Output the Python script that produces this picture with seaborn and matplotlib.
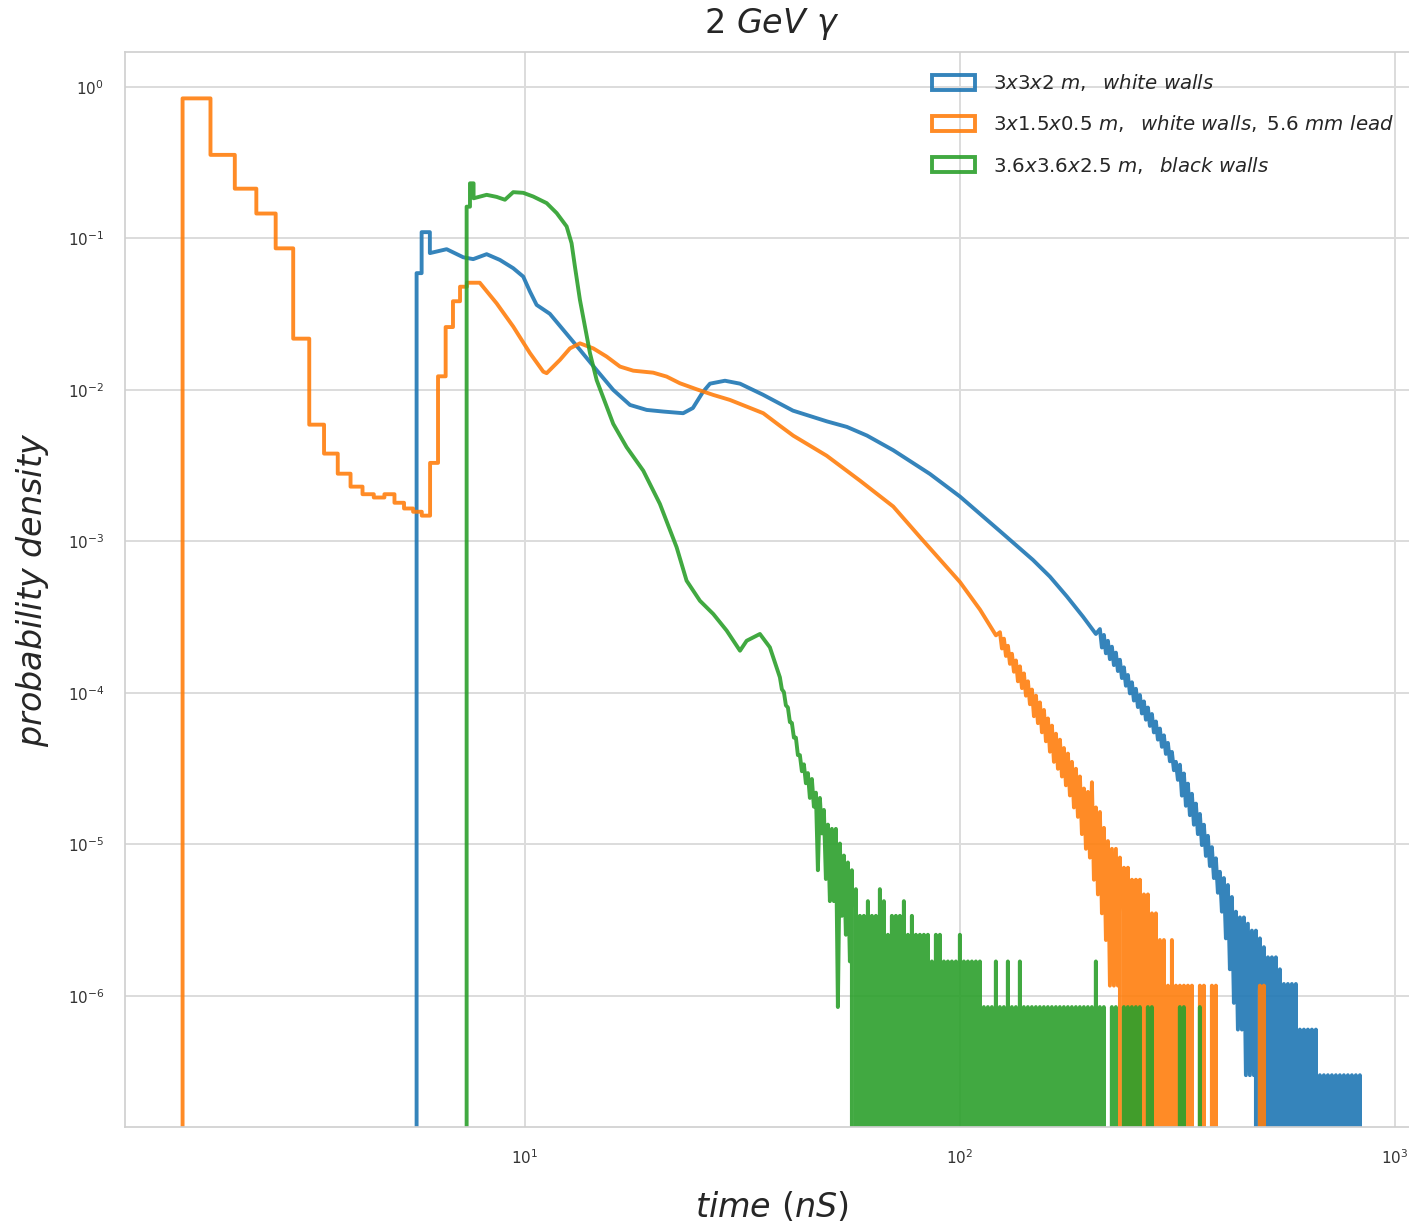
import numpy as np
import matplotlib
matplotlib.use("Agg")
import matplotlib.pyplot as plt
from matplotlib.patches import Patch
from matplotlib.ticker import NullFormatter, NullLocator
import seaborn as sns

# ---------------- data (time in ns, probability density) ----------------
series_labels = [
    r"$3x3x2\ m,\ \ white\ walls$",
    r"$3x1.5x0.5\ m,\ \ white\ walls,\ 5.6\ mm\ lead$",
    r"$3.6x3.6x2.5\ m,\ \ black\ walls$",
]
series_colors = ["#1f77b4", "#ff7f0e", "#2ca02c"]
x_ticks = [10, 100, 1000]

# --- blue: 3x3x2 m, white walls ---
blue_edges = [5.636, 5.788, 6.046]
blue_heights = [0.059, 0.110]
blue_t = [6.046, 6.607, 7.214, 7.605, 8.166, 8.761, 9.399, 9.910, 10.27, 10.64,
          11.41, 12.25, 13.38, 14.62, 15.96, 17.44, 19.05, 20.79, 23.11, 24.33,
          25.66, 26.63, 28.83, 31.22, 35.25, 41.32, 49.46, 54.98, 61.12, 70.26,
          85.31, 100.0, 123.6, 147.2, 161.0, 176.2, 191.8, 205.4]
blue_p = [0.080, 0.0849, 0.0751, 0.073, 0.0787, 0.0721, 0.0636, 0.056, 0.0446, 0.0364,
          0.0318, 0.0249, 0.0184, 0.0135, 0.0100, 0.00796, 0.00738, 0.0072, 0.00702, 0.0076,
          0.0097, 0.0110, 0.0115, 0.0110, 0.0093, 0.0073, 0.0062, 0.0057, 0.0050, 0.0040,
          0.00279, 0.00198, 0.00117, 0.000755, 0.000586, 0.000433, 0.000319, 0.000245]
blue_unit = 3.0e-7          # density of one entry per bin
blue_tail_span = (209.8, 839.6)
blue_tail_hi = [880, 805, 736, 673, 615, 552, 492, 438, 392, 355,
                323, 293, 267, 242, 216, 194, 175, 156, 136, 117,
                112, 98, 84, 72, 62, 53, 45, 38, 32, 27,
                22, 20, 18, 15, 12, 11, 11, 10, 9, 9,
                8, 7, 6, 6, 6, 5, 4, 4, 4, 4,
                2, 2, 2, 2, 2, 1, 1, 1, 1, 1,
                1, 1, 1, 1, 1, 1]
blue_tail_lo = [665, 609, 557, 509, 465, 418, 372, 331, 297, 269,
                244, 222, 202, 183, 164, 147, 132, 118, 103, 89,
                70, 60, 52, 45, 39, 33, 28, 24, 20, 16,
                12, 8, 5, 3, 2, 2, 1, 1, 1, 0,
                0, 0, 0, 0, 0, 0, 0, 0, 0, 0,
                0, 0, 0, 0, 0, 0, 0, 0, 0, 0,
                0, 0, 0, 0, 0, 0]

# --- orange: 3x1.5x0.5 m, white walls, 5.6 mm lead ---
orange_edges = [1.633, 1.893, 2.153, 2.413, 2.673, 2.933, 3.193, 3.453, 3.713, 3.973,
                4.233, 4.493, 4.753, 5.013, 5.273, 5.533, 5.793, 6.053, 6.313, 6.573,
                6.833, 7.093, 7.353, 7.613, 7.873]
orange_heights = [0.84, 0.356, 0.213, 0.146, 0.086, 0.0218, 0.0059, 0.0038, 0.0028, 0.0023,
                  0.00205, 0.00195, 0.00205, 0.0018, 0.00165, 0.00157, 0.00148, 0.0033, 0.0123, 0.026,
                  0.0385, 0.048, 0.051, 0.051]
orange_t = [8.608, 9.399, 10.27, 11.02, 11.22, 12.04, 12.69, 13.38, 14.36, 15.41,
            16.54, 17.74, 19.72, 21.17, 22.71, 24.81, 27.10, 29.60, 32.34, 35.31,
            38.56, 41.39, 49.39, 58.91, 70.26, 80.91, 89.95, 100.0, 111.2, 121.0]
orange_p = [0.0373, 0.0262, 0.0175, 0.0132, 0.0129, 0.0158, 0.0188, 0.0203, 0.0188, 0.0166,
            0.01426, 0.0134, 0.0130, 0.01225, 0.01107, 0.0101, 0.00927, 0.00859, 0.00776, 0.00702,
            0.0058, 0.00499, 0.00368, 0.00252, 0.0017, 0.00107, 0.00076, 0.00054, 0.000355, 0.00024]
orange_unit = 1.17e-6
orange_tail_span = (123.6, 515.9)
orange_tail_hi = [215, 195, 175, 155, 140, 128, 115, 102, 90, 82,
                  74, 66, 58, 52, 46, 42, 37, 34, 30, 27,
                  24, 20, 19, 22, 15, 14, 11, 9, 8, 8,
                  7, 6, 6, 5, 5, 5, 4, 4, 3, 3,
                  2, 2, 1, 2, 1, 1, 1, 1, 1, 0,
                  1, 1, 0, 1, 1, 0, 0, 0, 0, 0,
                  0, 0, 0, 0, 0, 1, 1, 0]
orange_tail_lo = [168, 150, 133, 118, 102, 92, 82, 72, 60, 54,
                  47, 41, 35, 30, 27, 24, 21, 18, 15, 13,
                  10, 8, 7, 5, 4, 3, 2, 1, 1, 1,
                  0, 0, 0, 0, 0, 0, 0, 0, 0, 0,
                  0, 0, 0, 0, 0, 0, 0, 0, 0, 0,
                  0, 0, 0, 0, 0, 0, 0, 0, 0, 0,
                  0, 0, 0, 0, 0, 0, 0, 0]

# --- green: 3.6x3.6x2.5 m, black walls ---
green_edges = [7.345, 7.476, 7.62]
green_heights = [0.162, 0.231]
green_t = [7.62, 8.166, 8.608, 8.995, 9.399, 9.910, 10.45, 11.22, 11.83, 12.47,
           12.80, 13.03, 13.38, 13.74, 14.11, 14.62, 15.96, 17.13, 18.71, 20.43,
           22.32, 23.53, 25.25, 27.10, 29.09, 31.22, 32.34, 34.69, 36.57]
green_p = [0.184, 0.194, 0.188, 0.180, 0.202, 0.200, 0.189, 0.171, 0.147, 0.120,
           0.093, 0.0652, 0.0393, 0.0262, 0.0175, 0.0116, 0.00597, 0.00419, 0.00293, 0.00177,
           0.000916, 0.000551, 0.000406, 0.000332, 0.000258, 0.00019, 0.000221, 0.000245, 0.0002]
green_unit = 8.45e-7
green_tail_span = (38.56, 359.9)
green_tail_hi = [150, 120, 95, 75, 60, 46, 40, 35, 32, 26,
                 24, 20, 16, 15, 15, 12, 10, 9, 8, 6,
                 4, 4, 5, 4, 4, 6, 5, 3, 4, 4,
                 4, 5, 3, 4, 3, 3, 3, 3, 2, 3,
                 3, 2, 2, 2, 2, 3, 2, 2, 2, 2,
                 2, 1, 1, 1, 2, 1, 1, 2, 1, 1,
                 2, 1, 1, 1, 1, 1, 1, 1, 1, 1,
                 1, 1, 1, 1, 1, 1, 1, 1, 1, 2,
                 1, 1, 0, 1, 1, 0, 1, 1, 1, 1,
                 1, 0, 1, 1, 0, 0, 0, 0, 0, 0,
                 1, 1, 0, 0, 0, 1]
green_tail_lo = [125, 98, 76, 60, 46, 36, 30, 24, 21, 8,
                 14, 7, 5, 5, 1, 4, 3, 2, 0, 0] + [0] * 86

# ---------------- style ----------------
sns.set_theme(style="whitegrid")
plt.rcParams["font.family"] = ["DejaVu Sans"]
plt.rcParams["grid.color"] = "#dcdcdc"
plt.rcParams["axes.edgecolor"] = "#d0d0d0"


def outline(edges, heights, t, p, span, hi, lo, unit):
    xs = [edges[0]]
    ys = [0.0]
    for i, h in enumerate(heights):
        xs += [edges[i], edges[i + 1]]
        ys += [h, h]
    tail_t = np.geomspace(span[0], span[1], 2 * len(hi))
    tail_p = np.column_stack([hi, lo]).ravel() * unit
    return (np.concatenate([xs, t, tail_t]),
            np.concatenate([ys, p, tail_p]))


series = [
    outline(blue_edges, blue_heights, blue_t, blue_p, blue_tail_span,
            blue_tail_hi, blue_tail_lo, blue_unit),
    outline(orange_edges, orange_heights, orange_t, orange_p, orange_tail_span,
            orange_tail_hi, orange_tail_lo, orange_unit),
    outline(green_edges, green_heights, green_t, green_p, green_tail_span,
            green_tail_hi, green_tail_lo, green_unit),
]

fig = plt.figure(figsize=(14.09, 12.28), dpi=100)
ax = fig.add_axes([125 / 1409, 101 / 1228, 1293 / 1409, 1075 / 1228])

LW = 2.8
for (x, y), c in zip(series, series_colors):
    sns.lineplot(x=x, y=y, color=c, lw=LW, alpha=0.9, estimator=None,
                 sort=False, ax=ax)

ax.set_xscale("log")
ax.set_yscale("log")
ax.set_xlim(1.204, 1130)
ax.set_ylim(1.365e-7, 1.70)
ax.set_xticks(x_ticks)
ax.xaxis.set_minor_locator(NullLocator())
ax.xaxis.set_minor_formatter(NullFormatter())
ax.yaxis.set_minor_locator(NullLocator())
ax.yaxis.set_minor_formatter(NullFormatter())
ax.grid(True, which="major", color="#dcdcdc", lw=1.4)
ax.tick_params(axis="both", which="both", length=0, pad=15,
               labelsize=11, colors="#333333")

ax.set_title(r"$2\ GeV\ \gamma$", fontsize=24, color="#262626", pad=14)
ax.set_xlabel(r"$time\ (nS)$", fontsize=24, labelpad=17, color="#262626")
ax.set_ylabel(r"$probability\ density$", fontsize=24, labelpad=12, color="#262626")

handles = [Patch(facecolor="none", edgecolor=c, lw=LW, alpha=0.9) for c in series_colors]
ax.legend(handles, series_labels, loc="upper left",
          bbox_to_anchor=((932 - 125) / 1293, 1 - 20 / 1075),
          borderaxespad=0, borderpad=0, frameon=False, fontsize=14.2,
          handlelength=2.2, handleheight=0.8, labelspacing=1.03,
          handletextpad=0.9)

fig.savefig("out.png", dpi=100, facecolor="white")
